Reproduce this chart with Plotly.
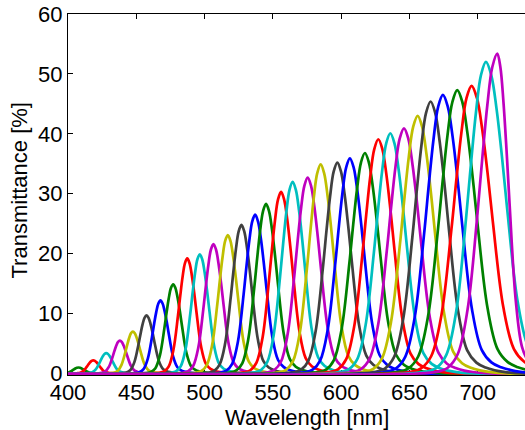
import plotly.graph_objects as go

# Peak wavelength [nm] of each filter band
centers = [407.7, 418.5, 428.0, 438.0, 447.5, 457.5, 467.7, 477.0, 487.3, 496.5,
           506.5, 517.0, 527.0, 537.0, 545.0, 556.0, 564.5, 575.5, 585.0, 597.2,
           606.4, 617.4, 627.2, 636.0, 646.0, 656.0, 665.5, 674.5, 685.0, 695.5,
           706.0, 714.3]
# Peak transmittance [%]
peaks = [1.0, 2.2, 3.4, 5.5, 7.0, 9.7, 12.2, 14.9, 19.2, 19.9,
         21.6, 23.1, 24.8, 26.5, 28.3, 30.3, 32.0, 32.7, 34.9, 35.2,
         35.9, 36.8, 39.1, 40.1, 40.9, 43.0, 45.4, 46.5, 47.3, 48.0,
         52.0, 53.4]
# Half width at half maximum on the short / long wavelength side [nm]
hw_left = [4.6, 4.8, 5.1, 5.4, 5.6, 5.9, 6.2, 6.5, 6.8, 7.0,
           7.4, 7.7, 8.0, 8.4, 8.7, 9.0, 9.3, 9.8, 10.1, 10.6,
           10.9, 11.4, 11.8, 12.1, 12.6, 13.0, 13.4, 13.8, 14.3, 14.8,
           14.5, 14.5]
hw_right = [4.6, 4.8, 5.1, 5.4, 5.6, 5.9, 6.2, 6.5, 6.8, 7.0,
            7.4, 7.7, 8.0, 8.4, 8.7, 9.0, 9.3, 9.8, 10.1, 10.6,
            10.9, 11.4, 11.8, 12.1, 12.6, 13.0, 13.4, 14.2, 14.8, 15.5,
            15.5, 9.0]
# Normalised band profile (offset in half widths, relative value)
prof_u_left = [-4.0, -3.0, -2.5, -2.0, -1.5, -1.0, -0.75, -0.5, -0.25]
prof_v_left = [0.0, 0.006, 0.018, 0.06, 0.2, 0.5, 0.677, 0.84, 0.958]
prof_u_right = [0.0, 0.25, 0.5, 0.75, 1.0, 1.5, 2.0, 2.5, 3.0, 3.5, 4.0, 5.0]
prof_v_right = [1.0, 0.958, 0.85, 0.70, 0.53, 0.23, 0.085, 0.04, 0.022, 0.012, 0.006, 0.0]
wl_span = [380, 760]

color_order = ["#0000FF", "#008000", "#FF0000", "#00BFBF", "#BF00BF", "#BFBF00", "#404040"]

xticks = [400, 450, 500, 550, 600, 650, 700]
yticks = [0, 10, 20, 30, 40, 50, 60]

fig = go.Figure()
for i, (c, p, hl, hr) in enumerate(zip(centers, peaks, hw_left, hw_right)):
    xs = [wl_span[0]] + [c + u * hl for u in prof_u_left] + [c + u * hr for u in prof_u_right] + [wl_span[1]]
    ys = [0.0] + [p * v for v in prof_v_left] + [p * v for v in prof_v_right] + [0.0]
    fig.add_trace(go.Scatter(
        x=xs, y=ys, mode="lines",
        line=dict(color=color_order[(i + 1) % 7], width=2.7, shape="spline", smoothing=1.0),
        showlegend=False, hoverinfo="skip"))

FONT = "Arial, Liberation Sans, sans-serif"
fig.update_layout(
    width=525, height=430,
    margin=dict(l=68, r=0, t=14, b=55),
    paper_bgcolor="white", plot_bgcolor="white",
    font=dict(family=FONT, size=22, color="black"),
    xaxis=dict(range=[400, 734.6], tickvals=xticks, ticks="inside", ticklen=5,
               tickcolor="black", showline=True, linecolor="black", linewidth=1,
               mirror="ticks", showgrid=False, zeroline=False, layer="below traces",
               ticklabelstandoff=-2),
    yaxis=dict(range=[-0.25, 60], tickvals=yticks, ticks="inside", ticklen=5,
               tickcolor="black", showline=True, linecolor="black", linewidth=1,
               mirror=False, showgrid=False, zeroline=False, layer="below traces",
               ticklabelstandoff=0),
    annotations=[
        dict(text="Wavelength [nm]", xref="x", yref="paper", x=575, y=0,
             xanchor="center", yanchor="middle", yshift=-42, showarrow=False,
             font=dict(family=FONT, size=22, color="black")),
        dict(text="Transmittance [%]", xref="paper", yref="paper", x=0, y=0.5,
             xanchor="center", yanchor="middle", xshift=-49, yshift=4,
             textangle=-90, showarrow=False,
             font=dict(family=FONT, size=22, color="black")),
    ],
)
fig.write_html("out.html")
